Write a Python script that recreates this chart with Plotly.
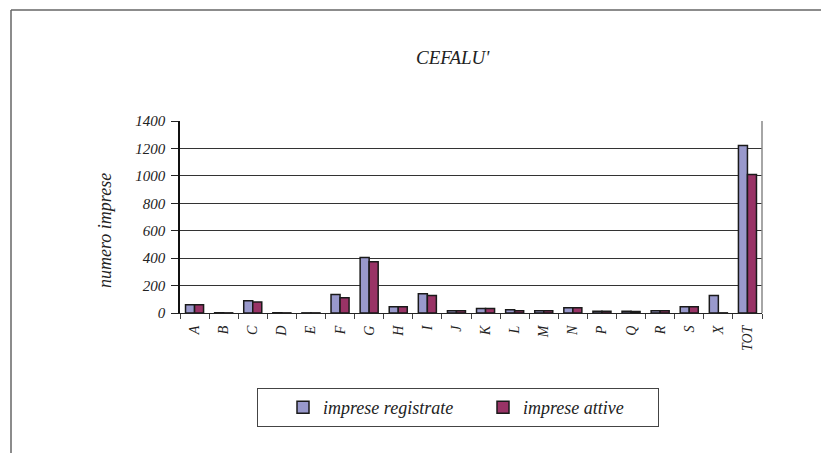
import plotly.graph_objects as go

categories = ["A", "B", "C", "D", "E", "F", "G", "H", "I", "J", "K", "L", "M", "N", "P", "Q", "R", "S", "X", "TOT"]
registrate = [61, 2, 90, 2, 1, 134, 405, 46, 141, 17, 32, 24, 17, 39, 12, 12, 17, 46, 127, 1222]
attive = [61, 1, 80, 1, 1, 112, 373, 46, 127, 17, 32, 17, 17, 39, 12, 11, 17, 46, 1, 1010]
series_names = ["imprese registrate", "imprese attive"]
y_ticks = [0, 200, 400, 600, 800, 1000, 1200, 1400]
title_text = "CEFALU'"
y_title = "numero imprese"

OFF = 8  # default page margin of the html body
W, H = 829 - OFF, 453 - OFF
L, R, T, B = 180 - OFF, 762 - OFF, 121 - OFF, 313 - OFF  # plot area in figure px


def px_x(px):
    return (px - OFF - L) / (R - L)


def px_y(py):
    return (B - (py - OFF)) / (B - T)


serif = "Liberation Serif"
ink = "#222222"

fig = go.Figure()
fig.add_trace(go.Bar(
    x=categories, y=registrate, name=series_names[0],
    marker=dict(color="#9999cc", line=dict(color="#1a1a1a", width=1.5)),
))
fig.add_trace(go.Bar(
    x=categories, y=attive, name=series_names[1],
    marker=dict(color="#993366", line=dict(color="#1a1a1a", width=1.5)),
))

fig.update_layout(
    width=W, height=H,
    margin=dict(l=L, r=W - R, t=T, b=H - B, pad=0),
    paper_bgcolor="white", plot_bgcolor="white",
    barmode="group", bargap=0.38, bargroupgap=0,
    font=dict(family=serif, size=14, color=ink, style="italic"),
    showlegend=True,
    legend=dict(
        orientation="h", x=px_x(257), xanchor="left", y=px_y(388), yanchor="top",
        bordercolor="#444444", borderwidth=1, bgcolor="white",
        font=dict(family=serif, size=18, color=ink, style="italic"),
        entrywidth=130, entrywidthmode="pixels",
        indentation=25,
        tracegroupgap=0,
    ),
    xaxis=dict(
        type="category", showgrid=False,
        showline=True, linecolor=ink, linewidth=1,
        ticks="outside", ticklen=5, tickcolor="#444444", tickson="boundaries",
        tickangle=-90, ticklabelstandoff=6,
        tickfont=dict(family=serif, size=14, color=ink, style="italic"),
    ),
    yaxis=dict(
        range=[0, 1400], tickvals=y_ticks, ticktext=[str(v) for v in y_ticks],
        showgrid=True, gridcolor="#333333", gridwidth=1,
        showline=True, linecolor="#111111", linewidth=1.5,
        ticks="outside", ticklen=7, tickcolor=ink, ticklabelstandoff=3,
        tickfont=dict(family=serif, size=15, color=ink, style="italic"),
        zeroline=False,
    ),
    annotations=[
        dict(text=title_text, x=px_x(453), y=px_y(57), xref="paper", yref="paper",
             xanchor="center", yanchor="middle",
             showarrow=False, font=dict(family=serif, size=19, color=ink, style="italic")),
        dict(text=y_title, x=px_x(105), y=px_y(231), xref="paper", yref="paper",
             xanchor="center", yanchor="middle",
             textangle=-90, showarrow=False,
             font=dict(family=serif, size=18, color=ink, style="italic")),
    ],
    shapes=[
        # outer frame (left and top edges visible)
        dict(type="line", xref="paper", yref="paper", x0=px_x(11), x1=px_x(11),
             y0=px_y(10), y1=px_y(470), line=dict(color="#666666", width=1.5)),
        dict(type="line", xref="paper", yref="paper", x0=px_x(11), x1=px_x(850),
             y0=px_y(10), y1=px_y(10), line=dict(color="#666666", width=1.5)),
        # right border of plot area
        dict(type="line", xref="paper", yref="paper", x0=1, x1=1, y0=0, y1=1,
             line=dict(color="#888888", width=1.5)),
    ],
)

fig.write_html("out.html")
